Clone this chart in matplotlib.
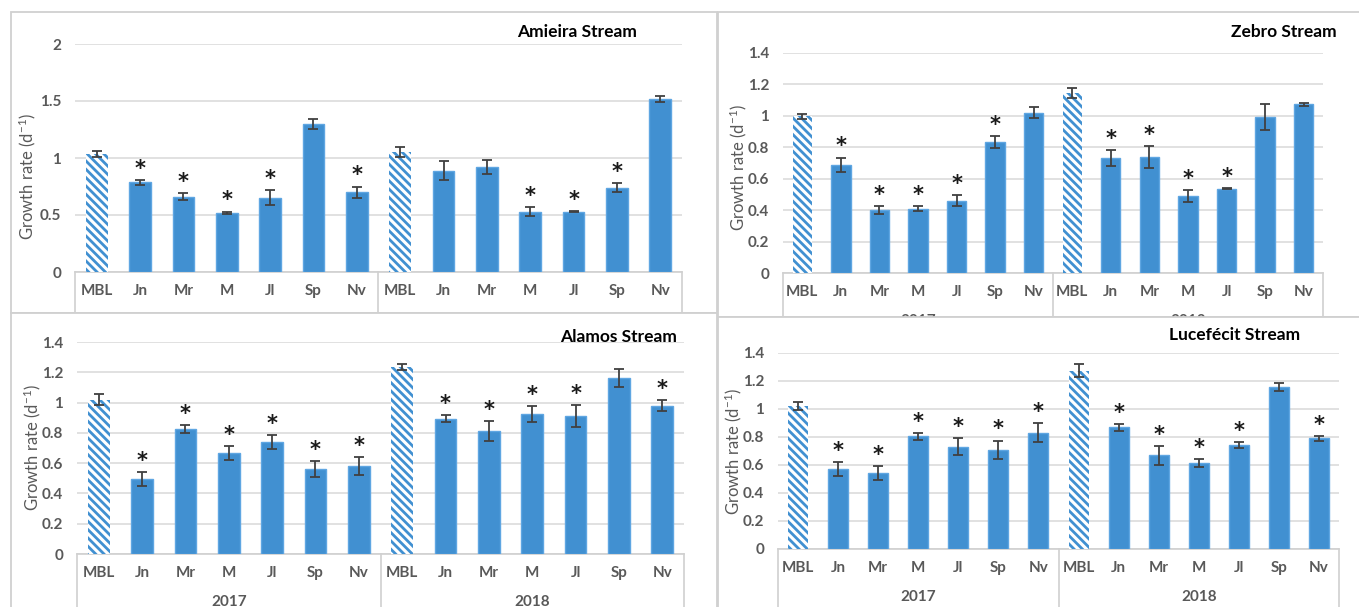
import matplotlib
matplotlib.use('Agg')
import matplotlib.pyplot as plt
from matplotlib.patches import Rectangle
from matplotlib.ticker import FuncFormatter
import matplotlib.transforms as mtransforms

plt.rcParams['font.family'] = ['Lato', 'DejaVu Sans']
plt.rcParams['hatch.linewidth'] = 2.0
plt.rcParams['mathtext.fontset'] = 'custom'
plt.rcParams['mathtext.rm'] = 'Lato'
plt.rcParams['mathtext.it'] = 'Lato:italic'
plt.rcParams['mathtext.bf'] = 'Lato:bold'

# ---------------- data ----------------
months = ['MBL', 'Jn', 'Mr', 'M', 'Jl', 'Sp', 'Nv']
years = ['2017', '2018']
categories = months + months

amieira_values = [1.035, 0.787, 0.66, 0.52, 0.65, 1.30, 0.70, 1.05, 0.89, 0.92, 0.53, 0.53, 0.74, 1.52]
amieira_errors = [0.03, 0.02, 0.03, 0.01, 0.065, 0.045, 0.05, 0.045, 0.085, 0.06, 0.04, 0.004, 0.04, 0.025]
amieira_sig = [0, 1, 1, 1, 1, 0, 1, 0, 0, 0, 1, 1, 1, 0]

zebro_values = [0.997, 0.69, 0.40, 0.41, 0.46, 0.835, 1.02, 1.146, 0.73, 0.736, 0.49, 0.535, 0.995, 1.075]
zebro_errors = [0.015, 0.045, 0.025, 0.015, 0.035, 0.037, 0.035, 0.03, 0.05, 0.07, 0.04, 0.003, 0.083, 0.01]
zebro_sig = [0, 1, 1, 1, 1, 1, 0, 0, 1, 1, 1, 1, 0, 0]

alamos_values = [1.02, 0.498, 0.825, 0.665, 0.737, 0.56, 0.58, 1.235, 0.893, 0.81, 0.924, 0.913, 1.163, 0.98]
alamos_errors = [0.036, 0.046, 0.028, 0.045, 0.046, 0.054, 0.06, 0.02, 0.022, 0.066, 0.054, 0.072, 0.061, 0.037]
alamos_sig = [0, 1, 1, 1, 1, 1, 1, 0, 1, 1, 1, 1, 0, 1]

lucefecit_values = [1.02, 0.572, 0.54, 0.806, 0.73, 0.708, 0.83, 1.275, 0.869, 0.67, 0.613, 0.744, 1.158, 0.79]
lucefecit_errors = [0.028, 0.05, 0.05, 0.024, 0.062, 0.067, 0.067, 0.048, 0.024, 0.067, 0.029, 0.019, 0.031, 0.019]
lucefecit_sig = [0, 1, 1, 1, 1, 1, 1, 0, 1, 1, 1, 1, 0, 1]

titles = ['Amieira Stream', 'Zebro Stream', 'Alamos Stream', 'Lucefécit Stream']

# ---------------- style ----------------
W, H = 1359, 607
BAR = '#4190D1'
BAR_EDGE = '#5FA6E2'
GRID = '#D9D9D9'
BOX = '#D0D0D0'
TXT = '#595959'

fig = plt.figure(figsize=(W / 100, H / 100), dpi=100)
fig.patch.set_facecolor('white')


def fx(x):
    return x / W


def fy(y):
    return 1 - y / H


panels = [
    dict(vals=amieira_values, errs=amieira_errors, sig=amieira_sig, title=titles[0],
         box=(11, 12, 717, 313), plot=(75, 44, 682, 272), ymax=2.0, step=0.5,
         tpos=(637, 32), ylpos=(27, 177), z=1),
    dict(vals=zebro_values, errs=zebro_errors, sig=zebro_sig, title=titles[1],
         box=(718, 12, 1360, 317), plot=(783, 53, 1323, 273), ymax=1.4, step=0.2,
         tpos=(1337, 32), ylpos=(738, 168), z=1),
    dict(vals=alamos_values, errs=alamos_errors, sig=alamos_sig, title=titles[2],
         box=(11, 313, 717, 612), plot=(77, 342, 684, 554), ymax=1.4, step=0.2,
         tpos=(677, 337), ylpos=(32, 448), z=3),
    dict(vals=lucefecit_values, errs=lucefecit_errors, sig=lucefecit_sig, title=titles[3],
         box=(718, 317, 1360, 612), plot=(778, 353, 1339, 549), ymax=1.4, step=0.2,
         tpos=(1300, 335), ylpos=(733, 452), z=3),
]

n = len(categories)
xs = list(range(n))
mbl_idx = [i for i, c in enumerate(categories) if c == 'MBL']
reg_idx = [i for i in xs if i not in mbl_idx]

for p in panels:
    z = p['z']
    bx0, by0, bx1, by1 = p['box']
    fig.add_artist(Rectangle((fx(bx0), fy(by1)), (bx1 - bx0) / W, (by1 - by0) / H,
                             transform=fig.transFigure, facecolor='white',
                             edgecolor=BOX, lw=1.3, zorder=z))
    px0, py0, px1, py1 = p['plot']
    ax = fig.add_axes([fx(px0), fy(py1), (px1 - px0) / W, (py1 - py0) / H])
    ax.set_zorder(z + 0.5)
    ax.patch.set_visible(False)

    vals, errs, sig = p['vals'], p['errs'], p['sig']
    ax.bar([xs[i] for i in reg_idx], [vals[i] for i in reg_idx], width=0.5,
           color=BAR, edgecolor=BAR_EDGE, lw=1.0, zorder=2)
    ax.bar([xs[i] for i in mbl_idx], [vals[i] for i in mbl_idx], width=0.5,
           facecolor='white', edgecolor=BAR, hatch='\\\\\\\\', lw=0, zorder=2)
    ax.errorbar(xs, vals, yerr=errs, fmt='none', ecolor='#404040', elinewidth=1.3,
                capsize=3.5, capthick=1.3, zorder=3)
    for i in xs:
        if sig[i]:
            ax.annotate('*', xy=(i, vals[i] + errs[i]), xytext=(0, 8),
                        textcoords='offset points', ha='center', va='center',
                        fontsize=15, family='DejaVu Sans', fontweight='bold',
                        color='#1a1a1a', zorder=4)

    ax.set_xlim(-0.5, n - 0.5)
    ax.set_ylim(0, p['ymax'])
    ticks = []
    t = 0.0
    while t <= p['ymax'] + 1e-9:
        ticks.append(round(t, 2))
        t += p['step']
    ax.set_yticks(ticks)
    ax.yaxis.set_major_formatter(FuncFormatter(lambda v, pos: '%g' % v))
    ax.tick_params(axis='y', length=0, pad=10, labelsize=11, labelcolor=TXT)
    for lab in ax.get_yticklabels():
        lab.set_fontweight('bold')
    ax.set_xticks([])
    ax.yaxis.grid(True, color=GRID, lw=1.1, zorder=0)
    ax.set_axisbelow(True)
    for s in ax.spines.values():
        s.set_visible(False)

    trans = mtransforms.blended_transform_factory(ax.transData, ax.transAxes)
    hpx = py1 - py0
    ax.plot([-0.5, n - 0.5], [0, 0], color=BOX, lw=1.2, transform=trans, clip_on=False, zorder=1)
    for xb in [-0.5, 6.5, n - 0.5]:
        ax.plot([xb, xb], [0, -80 / hpx], color=BOX, lw=1.2, transform=trans,
                clip_on=False, zorder=1)
    for i, c in enumerate(categories):
        ax.text(i, -19 / hpx, c, transform=trans, ha='center', va='center',
                fontsize=11, fontweight='bold', color=TXT)
    for k, yr in enumerate(years):
        ax.text(3 + 7 * k, -48 / hpx, yr, transform=trans, ha='center', va='center',
                fontsize=11, fontweight='bold', color=TXT)

    fig.text(fx(p['tpos'][0]), fy(p['tpos'][1]), p['title'], ha='right', va='center',
             fontsize=12.5, fontweight='bold', color='black', zorder=z + 0.6)
    fig.text(fx(p['ylpos'][0]), fy(p['ylpos'][1]), 'Growth rate (d$^{\\mathrm{-1}}$)',
             rotation=90, ha='center', va='center', fontsize=12, color=TXT, zorder=z + 0.6)

fig.savefig('out.png', dpi=100)
